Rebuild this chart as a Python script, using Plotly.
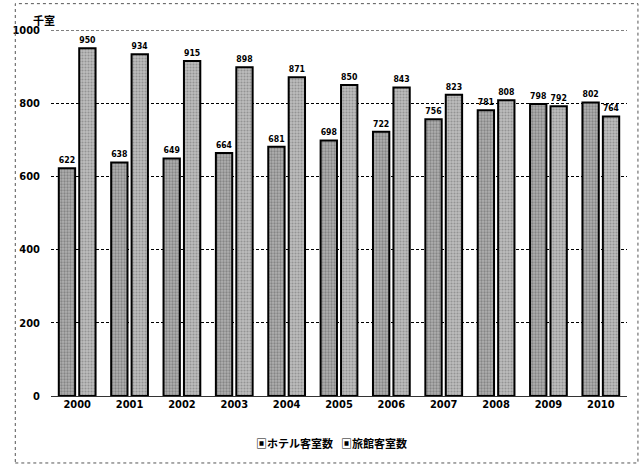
import plotly.graph_objects as go

years = ["2000", "2001", "2002", "2003", "2004", "2005", "2006", "2007", "2008", "2009", "2010"]
hotel_rooms = [622, 638, 649, 664, 681, 698, 722, 756, 781, 798, 802]
ryokan_rooms = [950, 934, 915, 898, 871, 850, 843, 823, 808, 792, 764]
y_ticks = [0, 200, 400, 600, 800, 1000]
series_names = ["ホテル客室数", "旅館客室数"]

label_font = dict(family="DejaVu Sans Condensed, DejaVu Sans", size=12, color="black", weight="bold")

fig = go.Figure()
fig.add_trace(go.Bar(
    x=years, y=hotel_rooms, name=series_names[0],
    marker=dict(color="#8f8f8f", line=dict(color="black", width=2),
                pattern=dict(shape=".", fgcolor="#5a5a5a", bgcolor="#b0b0b0", size=3, solidity=0.45)),
    text=hotel_rooms, textposition="outside", textfont=label_font, cliponaxis=False,
))
fig.add_trace(go.Bar(
    x=years, y=ryokan_rooms, name=series_names[1],
    marker=dict(color="#a0a0a0", line=dict(color="black", width=2),
                pattern=dict(shape=".", fgcolor="#6a6a6a", bgcolor="#bdbdbd", size=3, solidity=0.4)),
    text=ryokan_rooms, textposition="outside", textfont=label_font, cliponaxis=False,
))

# dotted outer frame around the whole chart
fig.add_shape(type="rect", xref="paper", yref="paper",
              x0=-0.062, x1=1.019, y0=-0.183, y1=1.072,
              line=dict(color="#555555", width=1, dash="dot"))
# top gridline at the axis maximum
fig.add_shape(type="line", xref="paper", yref="y", x0=0, x1=1, y0=1000, y1=1000,
              line=dict(color="black", width=1, dash="3px,2px"), layer="below")

legend_font = dict(family="Noto Sans CJK JP", size=11, color="black", weight="bold")
annotations = [
    dict(text="千室", xref="paper", yref="paper", x=-0.012, y=1.027,
         xanchor="center", yanchor="middle", showarrow=False,
         font=dict(family="Noto Sans CJK JP", size=11, color="black", weight="bold")),
    dict(text="▣" + series_names[0], xref="paper", yref="paper", x=0.353, y=-0.128,
         xanchor="left", yanchor="middle", showarrow=False, font=legend_font),
    dict(text="▣" + series_names[1], xref="paper", yref="paper", x=0.5, y=-0.128,
         xanchor="left", yanchor="middle", showarrow=False, font=legend_font),
]

fig.update_layout(
    width=644, height=465,
    margin=dict(l=44, r=17, t=30, b=69),
    paper_bgcolor="white", plot_bgcolor="white",
    barmode="group", bargap=0.22, bargroupgap=0.2,
    font=dict(family="Noto Sans CJK JP", color="black"),
    showlegend=False,
    xaxis=dict(tickfont=dict(family="DejaVu Sans Condensed, DejaVu Sans", size=11, weight="bold"),
               showline=False, ticks="", showgrid=False),
    yaxis=dict(range=[0, 1000], tickvals=y_ticks,
               tickfont=dict(family="DejaVu Sans Condensed, DejaVu Sans", size=11, weight="bold"),
               showgrid=True, gridcolor="black", gridwidth=1, griddash="3px,2px",
               zeroline=True, zerolinecolor="#333333", zerolinewidth=1,
               ticks="", ticklabelstandoff=10),
    annotations=annotations,
)

fig.write_html("out.html")
